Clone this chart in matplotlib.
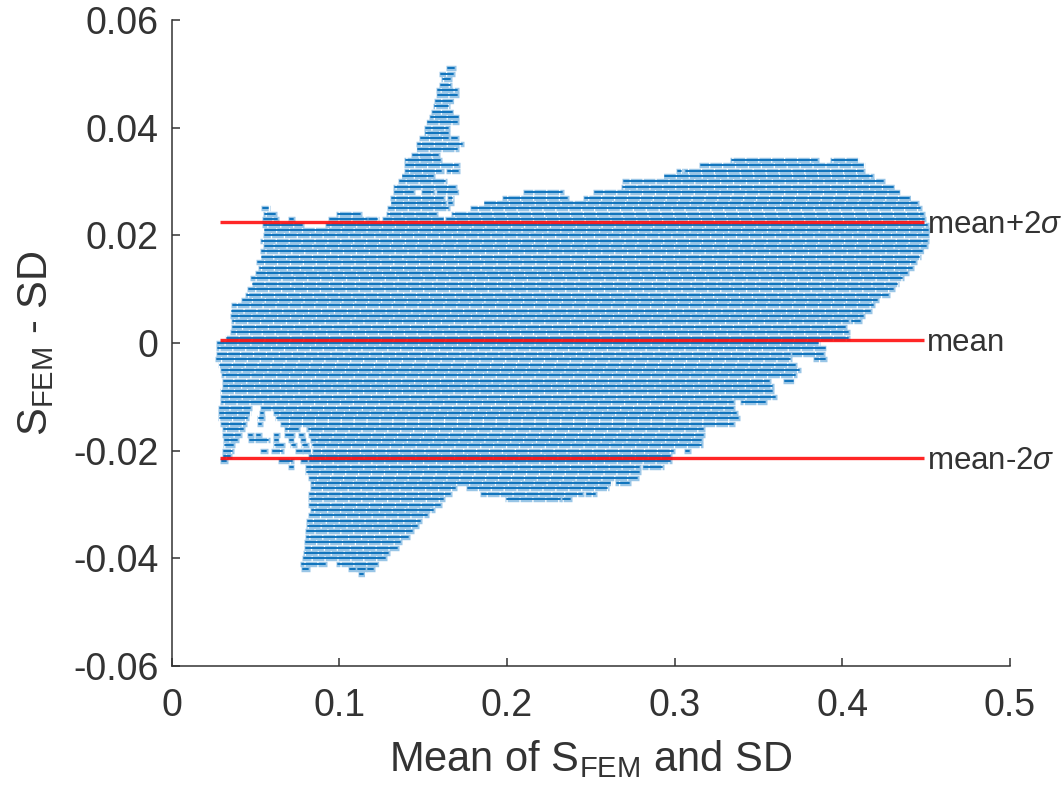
import matplotlib
matplotlib.use("Agg")
import matplotlib.pyplot as plt

plt.rcParams['font.family'] = ['Liberation Sans', 'DejaVu Sans']
plt.rcParams['mathtext.fontset'] = 'custom'
plt.rcParams['mathtext.rm'] = 'Liberation Sans'
plt.rcParams['mathtext.it'] = 'Liberation Sans:italic'
plt.rcParams['lines.scale_dashes'] = False

# each row of the scatter: difference value, and the x extents covered on that row
row_y = [
    0.051, 0.050, 0.049, 0.048, 0.047, 0.046, 0.045, 0.044, 0.043, 0.042,
    0.041, 0.040, 0.039, 0.038, 0.037, 0.036, 0.035, 0.034, 0.033, 0.032,
    0.031, 0.030, 0.029, 0.028, 0.027, 0.026, 0.025, 0.024, 0.023, 0.022,
    0.021, 0.020, 0.019, 0.018, 0.017, 0.016, 0.015, 0.014, 0.013, 0.012,
    0.011, 0.010, 0.009, 0.008, 0.007, 0.006, 0.005, 0.004, 0.003, 0.002,
    0.001, 0.000, -0.001, -0.002, -0.003, -0.004, -0.005, -0.006, -0.007, -0.008,
    -0.009, -0.010, -0.011, -0.012, -0.013, -0.014, -0.015, -0.016, -0.017, -0.018,
    -0.019, -0.020, -0.021, -0.022, -0.023, -0.024, -0.025, -0.026, -0.027, -0.028,
    -0.029, -0.030, -0.031, -0.032, -0.033, -0.034, -0.035, -0.036, -0.037, -0.038,
    -0.039, -0.040, -0.041, -0.042, -0.043,
]
row_spans = [
    [(.165, .1685)],
    [(.161, .168)],
    [(.162, .166)],
    [(.161, .166)],
    [(.159, .170)],
    [(.159, .170)],
    [(.158, .167)],
    [(.157, .165)],
    [(.156, .167)],
    [(.155, .171)],
    [(.153, .170)],
    [(.152, .165)],
    [(.152, .165)],
    [(.149, .165), (.167, .170)],
    [(.147, .173)],
    [(.147, .170)],
    [(.144, .159)],
    [(.140, .160), (.334, .385), (.394, .409)],
    [(.140, .171), (.316, .4123)],
    [(.140, .161), (.165, .171), (.302, .304), (.3065, .4123)],
    [(.138, .156), (.294, .4177)],
    [(.136, .163), (.270, .4243)],
    [(.133, .169), (.269, .430)],
    [(.133, .144), (.150, .156), (.159, .170), (.211, .233), (.2525, .434)],
    [(.1315, .162), (.1655, .167), (.198, .236), (.2465, .440)],
    [(.1315, .163), (.1655, .167), (.187, .4445)],
    [(.0546, .0575), (.1297, .165), (.179, .4463)],
    [(.0558, .0617), (.0993, .1124), (.129, .158), (.168, .448)],
    [(.055, .063), (.0707, .0725), (.0945, .1166), (.118, .1225), (.127, .162), (.164, .449)],
    [(.055, .078), (.0927, .4505)],
    [(.056, .451)],
    [(.056, .451)],
    [(.054, .4505)],
    [(.056, .450)],
    [(.054, .4475)],
    [(.054, .446)],
    [(.0516, .4435)],
    [(.053, .4416)],
    [(.051, .4386)],
    [(.048, .4356)],
    [(.0486, .4326)],
    [(.046, .4302)],
    [(.045, .427)],
    [(.0426, .4207)],
    [(.0367, .4183)],
    [(.036, .4165)],
    [(.036, .4123)],
    [(.0367, .4034), (.406, .4105)],
    [(.0367, .4016)],
    [(.036, .4034)],
    [(.033, .4034)],
    [(.0277, .3855)],
    [(.0277, .3897)],
    [(.0277, .369), (.3705, .3885)],
    [(.027, .369), (.3837, .3897)],
    [(.029, .3715)],
    [(.0301, .374)],
    [(.031, .3715)],
    [(.0313, .3565), (.366, .3705)],
    [(.0313, .358)],
    [(.0301, .358)],
    [(.0301, .360)],
    [(.0301, .335), (.340, .354)],
    [(.0289, .047), (.054, .335)],
    [(.0289, .046), (.0535, .0548), (.0617, .3365)],
    [(.0289, .045), (.052, .0545), (.0629, .338)],
    [(.0301, .044), (.052, .0535), (.0659, .335)],
    [(.0313, .0426), (.068, .0755), (.0817, .3168)],
    [(.0313, .0411), (.0462, .048), (.051, .053), (.0617, .0635), (.068, .0725), (.0767, .0785), (.0826, .3168)],
    [(.032, .0388), (.0468, .0575), (.0617, .0635), (.0707, .0725), (.078, .0797), (.0838, .316)],
    [(.032, .0367), (.0617, .0665), (.072, .0737), (.0787, .081), (.0844, .3156)],
    [(.0313, .036), (.054, .0565), (.0605, .066), (.0748, .0778), (.0793, .0823), (.085, .299), (.307, .3085)],
    [(.0313, .035), (.0826, .297)],
    [(.0301, .0325), (.0647, .0717), (.078, .0807), (.0826, .297)],
    [(.0707, .0725), (.0808, .279), (.282, .2925)],
    [(.0808, .279)],
    [(.0825, .2775)],
    [(.0837, .2615), (.2655, .273)],
    [(.0837, .169), (.1767, .2595)],
    [(.0825, .166), (.185, .2447), (.248, .2525)],
    [(.0825, .162), (.200, .2315), (.2335, .2375)],
    [(.0825, .160)],
    [(.0837, .1558)],
    [(.0825, .1525)],
    [(.0813, .148)],
    [(.0813, .1465)],
    [(.0808, .1435)],
    [(.0808, .141)],
    [(.0802, .1362)],
    [(.0802, .1345)],
    [(.0796, .129)],
    [(.079, .1273)],
    [(.0778, .0915), (.0993, .1225)],
    [(.0784, .0814), (.1064, .1094), (.1112, .1155), (.1172, .1202)],
    [(.1122, .114)],
]

# reference lines
line_x = [0.029, 0.449]
line_y = [0.0225, 0.0005, -0.0214]
line_labels = ['mean+2$\\sigma$', 'mean', 'mean-2$\\sigma$']

xticks = [0, 0.1, 0.2, 0.3, 0.4, 0.5]
xtick_labels = ['0', '0.1', '0.2', '0.3', '0.4', '0.5']
yticks = [-0.06, -0.04, -0.02, 0, 0.02, 0.04, 0.06]
ytick_labels = ['-0.06', '-0.04', '-0.02', '0', '0.02', '0.04', '0.06']

text_color = '#333333'

fig = plt.figure(figsize=(10.64, 7.94), dpi=100)
ax = fig.add_axes([171.5 / 1064, 128 / 794, 838.5 / 1064, 646 / 794])

for i, (y, spans) in enumerate(zip(row_y, row_spans)):
    for x0, x1 in spans:
        # pale halo of the markers, the gaps give the white specks
        ax.hlines(y, x0 - 0.0012, x1 + 0.0012, color='#98c5e6', lw=3.9,
                  linestyles=[(i * 3.7 % 9.3, (8.4, 0.9))], capstyle='butt', zorder=2)
        ax.hlines(y, x0, x1, color='#0a70bb', lw=1.35, capstyle='round', zorder=3)

for y in line_y:
    ax.plot(line_x, [y, y], color='#ff0000', lw=2.4, alpha=0.85, solid_capstyle='butt', zorder=4)
for y, label in zip(line_y, line_labels):
    ax.text(0.4505, y - 0.0005, label, fontsize=22.5, color=text_color, va='center', ha='left', zorder=5)

ax.set_xlim(0, 0.5)
ax.set_ylim(-0.06, 0.06)
ax.set_xticks(xticks)
ax.set_xticklabels(xtick_labels)
ax.set_yticks(yticks)
ax.set_yticklabels(ytick_labels)
ax.tick_params(direction='in', length=6, width=1.1, color=text_color, labelcolor=text_color,
               labelsize=27)
ax.tick_params(axis='x', pad=16)
ax.tick_params(axis='y', pad=9.5)
ax.spines['top'].set_visible(False)
ax.spines['right'].set_visible(False)
ax.spines['left'].set_color(text_color)
ax.spines['bottom'].set_color(text_color)
ax.spines['left'].set_linewidth(1.1)
ax.spines['bottom'].set_linewidth(1.1)

ax.set_xlabel('Mean of $\\mathrm{S_{FEM}}$ and SD', fontsize=30, color=text_color, labelpad=10)
ax.set_ylabel('$\\mathrm{S_{FEM}}$ - SD', fontsize=30, color=text_color, labelpad=12)

fig.savefig('out.png', dpi=100)
